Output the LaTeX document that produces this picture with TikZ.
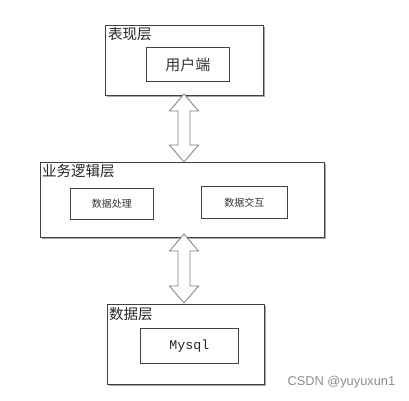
\documentclass[tikz,border=0pt]{standalone}
\usepackage{fontspec}
\newfontfamily\cjk{Noto Sans CJK SC}
\newfontfamily\monof{Liberation Mono}
\usetikzlibrary{calc,shadows}
\definecolor{edge}{HTML}{404040}
\definecolor{arr}{HTML}{7F7F7F}
\tikzset{
  layerbox/.style={draw=edge, line width=0.8pt, fill=white, anchor=north west, inner sep=0pt,
    drop shadow={shadow xshift=1.5pt, shadow yshift=-1.5pt, fill=black!35, opacity=1}},
  itembox/.style={draw=edge, line width=0.8pt, fill=white, anchor=north west, inner sep=0pt,
    drop shadow={shadow xshift=1pt, shadow yshift=-1pt, fill=black!25, opacity=1}},
  layertitle/.style={anchor=north west, inner sep=0pt, font=\cjk\fontsize{14.5}{16}\selectfont, text=black!85},
  itemtext/.style={font=\cjk\fontsize{15}{17}\selectfont, text=black!80},
  smalltext/.style={font=\cjk\fontsize{10}{12}\selectfont, text=black!80},
  blk/.style={draw=arr, line width=0.8pt, fill=white, line join=miter},
}
\begin{document}
\begin{tikzpicture}[x=1pt,y=-1pt]
\useasboundingbox (0,0) rectangle (409,400);
% top layer
\node[layerbox, minimum width=158pt, minimum height=70pt] (top) at (105,25) {};
\node[layertitle] (toptitle) at (108,27) {表现层};
\node[itembox, minimum width=83pt, minimum height=34pt] (user) at (146,47) {};
\node[itemtext] (usert) at (user.center) {用户端};
% middle layer
\node[layerbox, minimum width=284pt, minimum height=75pt] (mid) at (40,162) {};
\node[layertitle] (midtitle) at (42,164) {业务逻辑层};
\node[itembox, minimum width=83pt, minimum height=31pt] (proc) at (70,188) {};
\node[smalltext] (proct) at (proc.center) {数据处理};
\node[itembox, minimum width=86pt, minimum height=32pt] (inter) at (201,186) {};
\node[smalltext] (intert) at (inter.center) {数据交互};
% bottom layer
\node[layerbox, minimum width=157pt, minimum height=80pt] (bot) at (107,304) {};
\node[layertitle] (bottitle) at (109,307) {数据层};
\node[itembox, minimum width=98pt, minimum height=35pt] (db) at (140,328) {};
\node[font=\monof\fontsize{13.3}{15}\selectfont, text=black!85] (dbt) at (db.center) {Mysql};
% arrows
\coordinate (p1) at (184,94);
\coordinate (q1) at (184,162);
\coordinate (p2) at (184,234);
\coordinate (q2) at (184,303);
\foreach \p/\q in {p1/q1,p2/q2}{
  \draw[blk] (\p) -- ($(\p)+(14.5,17)$) -- ($(\p)+(6,17)$) -- ($(\q)+(6,-17)$) -- ($(\q)+(14.5,-17)$)
    -- (\q) -- ($(\q)+(-14.5,-17)$) -- ($(\q)+(-6,-17)$) -- ($(\p)+(-6,17)$) -- ($(\p)+(-14.5,17)$) -- cycle;
}
% watermark
\node[anchor=west, font=\fontspec{Liberation Sans}\fontsize{12.8}{15}\selectfont, text=black!45] (wm) at (284,382) {CSDN @yuyuxun1};
\end{tikzpicture}
\end{document}
